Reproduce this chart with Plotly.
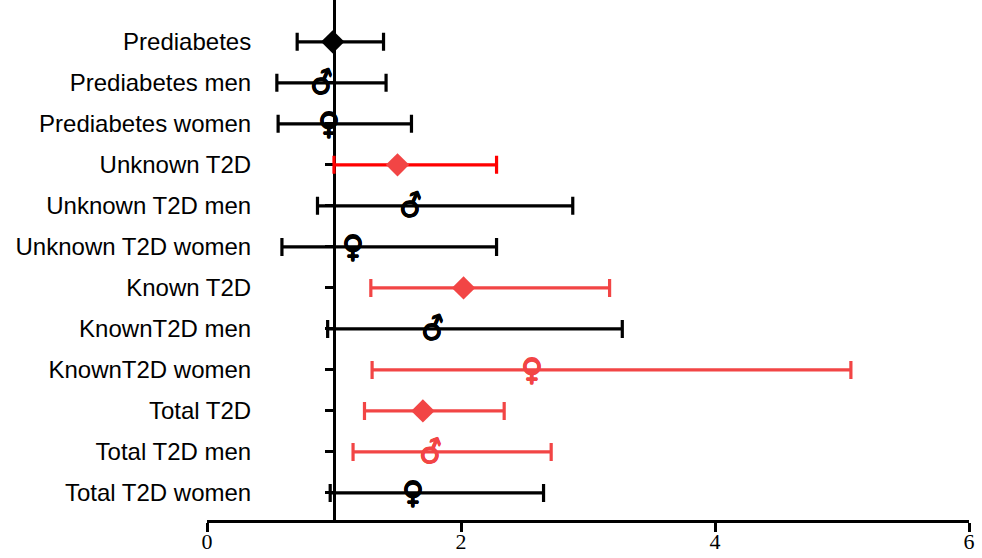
import plotly.graph_objects as go

categories = ["Prediabetes", "Prediabetes men", "Prediabetes women",
              "Unknown T2D", "Unknown T2D men", "Unknown T2D women",
              "Known T2D", "KnownT2D men", "KnownT2D women",
              "Total T2D", "Total T2D men", "Total T2D women"]
estimate = [0.99, 0.91, 0.96, 1.50, 1.61, 1.15, 2.02, 1.78, 2.56, 1.70, 1.77, 1.62]
ci_low = [0.71, 0.55, 0.56, 1.00, 0.87, 0.59, 1.29, 0.95, 1.30, 1.24, 1.15, 0.97]
ci_high = [1.39, 1.41, 1.61, 2.28, 2.88, 2.28, 3.17, 3.27, 5.07, 2.34, 2.71, 2.65]
group = ["all", "men", "women"] * 4
significant = [False, False, False, True, False, False, True, False, True, True, True, False]
x_ticks = [0, 2, 4, 6]

BLACK = "#000000"
RED = "#f24545"
BRIGHT_RED = "#ff0000"

fig = go.Figure()
ypos = list(range(len(categories)))

for i, cat in enumerate(categories):
    col = RED if significant[i] else BLACK
    bar_col = BRIGHT_RED if cat == "Unknown T2D" else col
    fig.add_trace(go.Scatter(
        x=[estimate[i]], y=[ypos[i]], mode="markers",
        marker=dict(size=1, color=bar_col, opacity=0),
        error_x=dict(type="data", symmetric=False,
                     array=[ci_high[i] - estimate[i]],
                     arrayminus=[estimate[i] - ci_low[i]],
                     color=bar_col, thickness=3.2, width=9),
        showlegend=False, hoverinfo="skip"))

annotations = []
for i, cat in enumerate(categories):
    col = RED if significant[i] else BLACK
    if group[i] == "all":
        fig.add_trace(go.Scatter(
            x=[estimate[i]], y=[ypos[i]], mode="markers",
            marker=dict(symbol="diamond", size=18, color=col, line=dict(width=0)),
            showlegend=False))
    else:
        male = group[i] == "men"
        glyph = "\u2642" if male else "\u2640"
        annotations.append(dict(
            x=estimate[i], y=ypos[i], xref="x", yref="y", text=glyph,
            showarrow=False, textangle=-22 if male else 0,
            xanchor="center", yanchor="middle",
            font=dict(family="DejaVu Sans", size=30, color=col, weight="bold",
                      shadow=f"0.6px 0 0 {col}, -0.6px 0 0 {col}, 0 0.6px 0 {col}, 0 -0.6px 0 {col}")))

fig.update_layout(
    width=982, height=558,
    margin=dict(l=207, r=13, t=0, b=38),
    plot_bgcolor="white", paper_bgcolor="white",
    annotations=annotations,
    xaxis=dict(range=[0, 6], tickvals=x_ticks, ticktext=[str(t) for t in x_ticks],
               showline=True, linecolor="black", linewidth=3,
               ticks="outside", ticklen=9, tickwidth=3, tickcolor="black",
               showgrid=False, zeroline=False, automargin=False,
               ticklabelstandoff=-9,
               tickfont=dict(family="Liberation Serif", size=22, color="black")),
    yaxis=dict(range=[11.66, -1.02], tickvals=ypos, ticktext=categories,
               anchor="free", position=1/6, layer="below traces",
               showline=True, linecolor="black", linewidth=3,
               ticks="outside", ticklen=8, tickwidth=3, tickcolor="black",
               showgrid=False, zeroline=False, automargin=False,
               ticklabelstandoff=69,
               tickfont=dict(family="Liberation Sans", size=24, color="black")),
)

fig.write_html("out.html")
